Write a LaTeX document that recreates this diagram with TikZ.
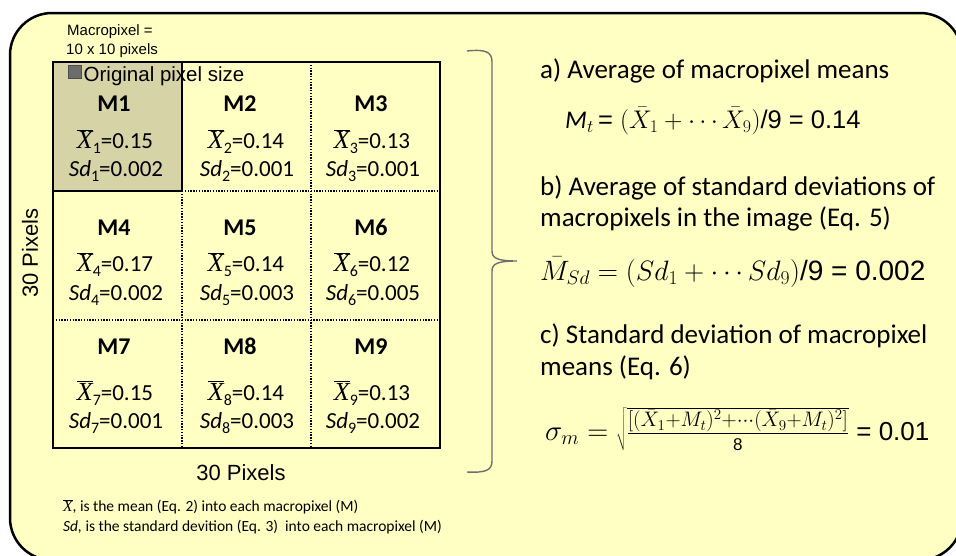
\RequirePackage{fix-cm}
\documentclass[tikz,border=0pt]{standalone}
\usepackage{fontspec}
\setmainfont{Carlito}
\newfontfamily\arial{Liberation Sans}
\newfontfamily\tnr{Liberation Serif}
\definecolor{bgy}{HTML}{FFFFC4}
\definecolor{mone}{HTML}{D6D3A6}
\definecolor{bracegray}{HTML}{6E6E6E}
\newcommand{\fs}[1]{\fontsize{#1}{#1}\selectfont}
\newcommand{\xb}{$\overline{\mbox{\tnr\itshape X}}$}
\newcommand{\xbs}[1]{{\fs{26}\xb}\raisebox{-0.22em}{\fs{16}#1}}
\newcommand{\sds}[1]{{\itshape Sd}\raisebox{-0.22em}{\fs{16}#1}}
\begin{document}
\begin{tikzpicture}[x=1pt,y=-1pt,
  thickln/.style={line width=2.6pt},
  dotln/.style={line width=1.1pt, dash pattern=on 1.4pt off 1.4pt},
  mlab/.style={anchor=base, inner sep=0pt, font=\fs{24}\bfseries},
  cell/.style={anchor=base, inner sep=0pt, font=\fs{23}},
  rtext/.style={anchor=base west, inner sep=0pt, font=\fs{27}},
  ftext/.style={anchor=base west, inner sep=0pt, font=\fs{15.5}},
  formula/.style={anchor=base west, inner sep=0pt, font=\fs{25.5}}]
\useasboundingbox (0,0) rectangle (956,555);
% background panel
\draw[line width=2.5pt, fill=bgy, rounded corners=42pt] (10,13) rectangle (962,560);
% grid
\fill[mone] (53,62) rectangle (182,191);
\draw[dotln] (182,191) -- (182,448);
\draw[dotln] (311,62) -- (311,448);
\draw[dotln] (182,191) -- (440,191);
\draw[dotln] (53,320) -- (440,320);
\draw[thickln] (53,62) rectangle (182,191);
\draw[thickln] (53,62) rectangle (440,448);
% top-left labels
\node[anchor=base west, inner sep=0pt, font=\arial\fs{15}] (mp1) at (67,35) {Macropixel =};
\node[anchor=base west, inner sep=0pt, font=\arial\fs{15}] (mp2) at (66,54.3) {10 x 10 pixels};
\fill[gray!85!black] (68,65) rectangle (81,78);
\draw[line width=0.6pt, gray!60!black] (68,65) rectangle (81,78);
\node[anchor=base west, inner sep=0pt, font=\arial\fs{20.5}] (ops) at (83.5,81) {Original pixel size};
% cells
\node[mlab] (m1) at (114,111.7) {M1};
\node[mlab] (m2) at (240,111.7) {M2};
\node[mlab] (m3) at (371,111.7) {M3};
\node[mlab] (m4) at (114,235) {M4};
\node[mlab] (m5) at (240,235) {M5};
\node[mlab] (m6) at (371,235) {M6};
\node[mlab] (m7) at (114,354) {M7};
\node[mlab] (m8) at (240,354) {M8};
\node[mlab] (m9) at (371,354) {M9};
\node[cell] (x1) at (115,148.3) {\xbs{1}=0.15};
\node[cell] (x2) at (246,148.3) {\xbs{2}=0.14};
\node[cell] (x3) at (372,148.3) {\xbs{3}=0.13};
\node[cell] (x4) at (115,271.7) {\xbs{4}=0.17};
\node[cell] (x5) at (246,271.7) {\xbs{5}=0.14};
\node[cell] (x6) at (372,271.7) {\xbs{6}=0.12};
\node[cell] (x7) at (115,400) {\xbs{7}=0.15};
\node[cell] (x8) at (246,400) {\xbs{8}=0.14};
\node[cell] (x9) at (372,400) {\xbs{9}=0.13};
\node[cell] (s1) at (116,176.7) {\sds{1}=0.002};
\node[cell] (s2) at (247,176.7) {\sds{2}=0.001};
\node[cell] (s3) at (373,176.7) {\sds{3}=0.001};
\node[cell] (s4) at (116,300) {\sds{4}=0.002};
\node[cell] (s5) at (247,300) {\sds{5}=0.003};
\node[cell] (s6) at (373,300) {\sds{6}=0.005};
\node[cell] (s7) at (116,428.3) {\sds{7}=0.001};
\node[cell] (s8) at (247,428.3) {\sds{8}=0.003};
\node[cell] (s9) at (373,428.3) {\sds{9}=0.002};
% axis labels
\node[rotate=90, inner sep=0pt, font=\arial\fs{22}] (vp) at (30,253) {30 Pixels};
\node[anchor=base, inner sep=0pt, font=\arial\fs{22}] (hp) at (241,480) {30 Pixels};
% footnotes
\node[ftext] (fn1) at (63,511.7) {\xb, is the mean (Eq. 2) into each macropixel (M)};
\node[ftext] (fn2) at (63,531.7) {{\itshape Sd,} is the standard devition (Eq. 3)\ \ into each macropixel (M)};
% brace
\draw[bracegray, line width=1.4pt]
  (467,51) .. controls (486,49) and (492,52) .. (492,62) -- (492,251)
  .. controls (492,258) and (497,261) .. (517,261)
  .. controls (497,261) and (492,264) .. (492,271) -- (492,461)
  .. controls (492,470) and (486,473) .. (467,472);
% right-hand text
\node[rtext] (ta) at (540,78.3) {a) Average of macropixel means};
\node[formula] (fa) at (565,128.3) {{\itshape M}$_t${\arial\,= }$(\bar X_1+\cdots\bar X_9)${\arial/9 = 0.14}};
\node[rtext] (tb1) at (540,195) {b) Average of standard deviations of};
\node[rtext] (tb2) at (540,226.7) {macropixels in the image (Eq. 5)};
\node[formula, font=\fs{28}] (fb) at (540,280) {$\bar M_{Sd} = (Sd_1+\cdots Sd_9)${\arial/9 = 0.002}};
\node[rtext] (tc1) at (540,343.3) {c) Standard deviation of macropixel};
\node[rtext] (tc2) at (540,375) {means (Eq. 6)};
\node[formula, font=\fs{29}] (fc) at (545,440) {$\sigma_m = \sqrt{\frac{\mbox{\fs{30}$\scriptstyle[(\bar X_1+M_t)^2+\cdots(\bar X_9+M_t)^2]$}}{\mbox{\arial\fs{17}8}}}${\arial\fs{26} = 0.01}};
\end{tikzpicture}
\end{document}
